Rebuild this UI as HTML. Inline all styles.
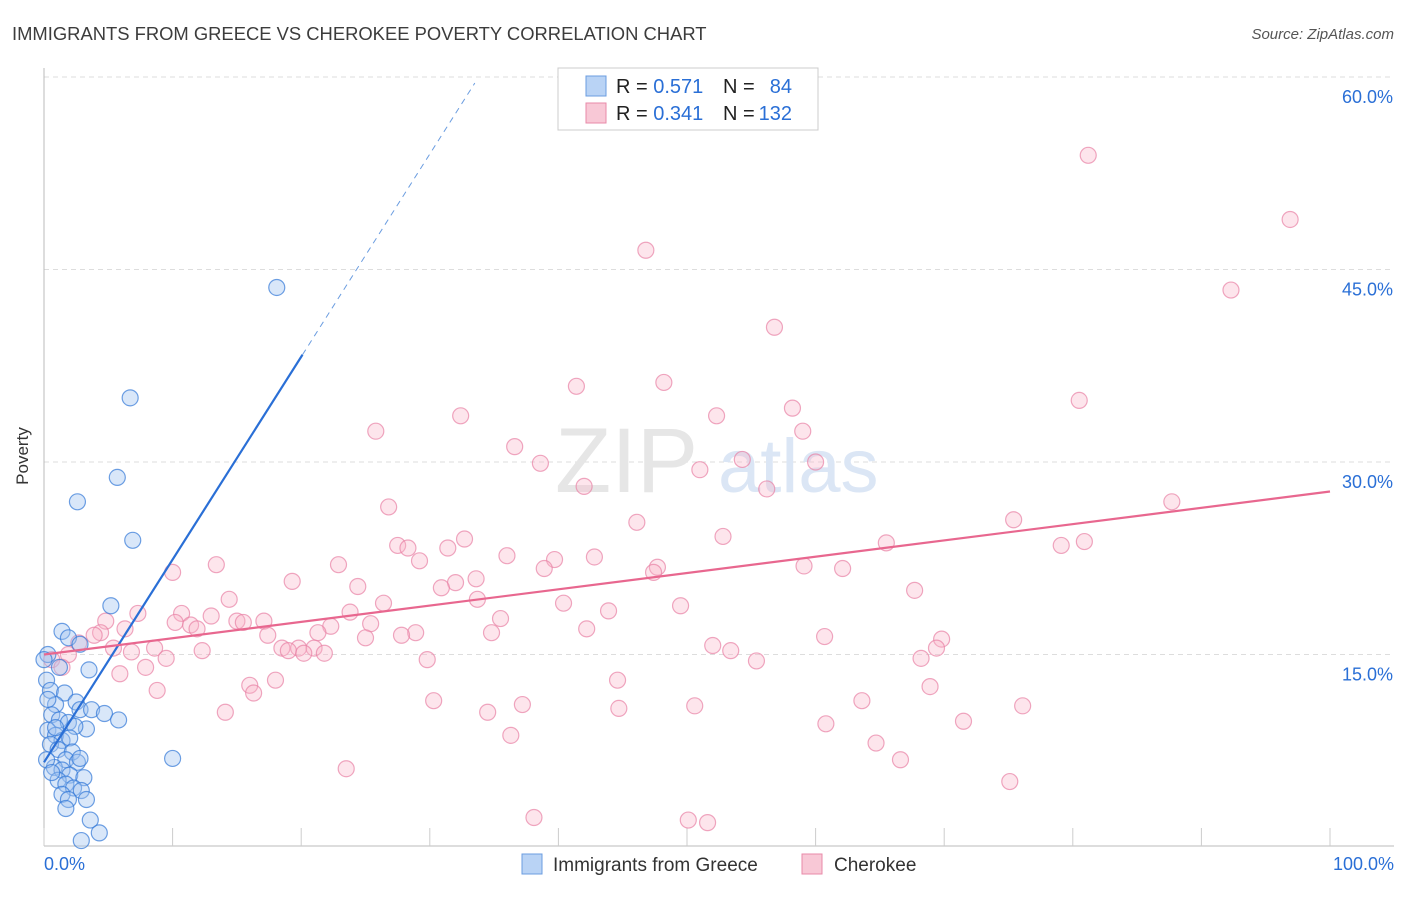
<!DOCTYPE html>
<html><head><meta charset="utf-8"><style>
body{margin:0;background:#fff;font-family:"Liberation Sans",sans-serif}
svg text{font-family:"Liberation Sans",sans-serif}
</style></head><body>
<svg id="c" width="1406" height="892">
<text x="12" y="40" font-size="18.4" fill="#3c3c3c">IMMIGRANTS FROM GREECE VS CHEROKEE POVERTY CORRELATION CHART</text>
<text x="1394" y="39" font-size="15" fill="#555" text-anchor="end" font-style="italic">Source: ZipAtlas.com</text>
<text x="28" y="456" font-size="17" fill="#333" text-anchor="middle" transform="rotate(-90 28 456)">Poverty</text>
<g id="grid"></g>
<text x="555" y="492" font-size="92" fill="#e6e6e6" font-family="Liberation Serif">ZIP</text>
<text x="718" y="492" font-size="76" fill="#dbe6f5">atlas</text>
<g id="pts"></g>
<g id="lines"></g>
<g>
<rect x="558" y="68" width="260" height="62" fill="#fff" stroke="#ccc"/>
<rect x="586" y="76" width="20" height="20" fill="#b9d3f5" stroke="#6b9de0"/>
<text x="616" y="93" font-size="20" fill="#222">R = <tspan fill="#2a6fd6">0.571</tspan></text>
<text x="723" y="93" font-size="20" fill="#222">N =</text>
<text x="792" y="93" font-size="20" fill="#2a6fd6" text-anchor="end">84</text>
<rect x="586" y="103" width="20" height="20" fill="#f8c8d6" stroke="#e88aa8"/>
<text x="616" y="120" font-size="20" fill="#222">R = <tspan fill="#2a6fd6">0.341</tspan></text>
<text x="723" y="120" font-size="20" fill="#222">N =</text>
<text x="792" y="120" font-size="20" fill="#2a6fd6" text-anchor="end">132</text>
</g>
<rect x="522" y="854" width="20" height="20" fill="#b9d3f5" stroke="#6b9de0"/>
<text x="553" y="871" font-size="19" fill="#333">Immigrants from Greece</text>
<rect x="802" y="854" width="20" height="20" fill="#f8c8d6" stroke="#e88aa8"/>
<text x="834" y="871" font-size="19" fill="#333">Cherokee</text>
</svg>
<script>
const yTicks=[15,30,45,60];
const yTickLabels=["15.0%","30.0%","45.0%","60.0%"];
const xTickLabels=["0.0%","100.0%"];
const greeceX=[18.1,6.7,5.7,2.6,6.9,5.2,1.4,1.9,2.8,0.3,1.2,3.5,0.2,0.5,1.6,2.5,0.9,2.8,3.7,4.7,5.8,0.6,1.2,1.9,3.3,2.4,0.3,0.9,1.4,2.0,0.5,1.1,2.2,1.7,2.6,0.8,1.4,10.0,2.8,2.0,3.1,1.1,1.7,2.3,2.9,1.4,1.9,3.3,1.7,3.6,4.3,2.9,0.2,0.6,0.3,0.9,0.0];
const greeceY=[43.6,35.0,28.8,26.9,23.9,18.8,16.8,16.3,15.8,15.0,14.0,13.8,13.0,12.2,12.0,11.3,11.1,10.7,10.7,10.4,9.9,10.3,9.9,9.7,9.2,9.4,9.1,8.7,8.3,8.5,8.0,7.6,7.4,6.8,6.6,6.2,6.0,6.9,6.9,5.6,5.4,5.2,4.9,4.6,4.4,4.1,3.7,3.7,3.0,2.1,1.1,0.5,6.8,5.8,11.5,9.3,14.6];
const cherX=[81.2,96.9,46.8,92.3,56.8,41.4,48.2,80.5,32.4,58.2,52.3,25.8,59.0,36.6,38.6,54.3,60.0,51.0,42.0,56.2,87.7,26.8,75.4,46.1,52.8,32.7,65.5,79.1,80.9,27.5,28.3,31.4,36.0,42.8,39.7,29.2,22.9,13.4,59.1,62.1,38.9,47.7,47.4,10.0,33.6,32.0,19.3,30.9,24.4,67.7,33.7,14.4,26.4,40.4,49.5,43.9,7.3,23.8,10.7,13.0,35.5,15.0,17.1,4.8,10.2,11.4,15.5,25.4,22.3,11.9,6.3,42.2,34.8,4.4,21.3,28.9,27.8,3.9,17.4,60.7,25.0,69.8,2.7,52.0,69.4,18.5,19.8,21.0,12.3,19.0,21.8,20.2,8.6,5.4,6.8,1.9,29.8,9.5,53.4,68.2,55.4,0.6,7.9,1.4,5.9,18.0,44.6,16.0,68.9,8.8,16.3,63.6,30.3,76.1,37.2,50.6,44.7,34.5,14.1,71.5,60.8,36.3,64.7,66.6,23.5,75.1,38.1,50.1,51.6];
const cherY=[53.9,48.9,46.5,43.4,40.5,35.9,36.2,34.8,33.6,34.2,33.6,32.4,32.4,31.2,29.9,30.2,30.0,29.4,28.1,27.9,26.9,26.5,25.5,25.3,24.2,24.0,23.7,23.5,23.8,23.5,23.3,23.3,22.7,22.6,22.4,22.3,22.0,22.0,21.9,21.7,21.7,21.8,21.4,21.4,20.9,20.6,20.7,20.2,20.3,20.0,19.3,19.3,19.0,19.0,18.8,18.4,18.2,18.3,18.2,18.0,17.8,17.6,17.6,17.6,17.5,17.3,17.5,17.4,17.2,17.0,17.0,17.0,16.7,16.7,16.7,16.7,16.5,16.5,16.5,16.4,16.3,16.2,15.9,15.7,15.5,15.5,15.5,15.5,15.3,15.3,15.1,15.1,15.5,15.5,15.2,15.0,14.6,14.7,15.3,14.7,14.5,14.6,14.0,14.0,13.5,13.0,13.0,12.6,12.5,12.2,12.0,11.4,11.4,11.0,11.1,11.0,10.8,10.5,10.5,9.8,9.6,8.7,8.1,6.8,6.1,5.1,2.3,2.1,1.9];
const greeceFit=[6.6,1.58];
const cherFit=[15.0,0.127];
const X=v=>44+v*12.86, Y=v=>847-v*12.833;
const NS="http://www.w3.org/2000/svg";
function mk(t,a,p){const e=document.createElementNS(NS,t);for(const k in a)e.setAttribute(k,a[k]);p.appendChild(e);return e;}
const grid=document.getElementById('grid');
yTicks.forEach((t,i)=>{
  const l=mk('line',{x1:44,x2:1394,y1:Y(t),y2:Y(t),stroke:'#ddd','stroke-dasharray':'5,4'},grid);
  
  
  const tx=mk('text',{x:1393,y:Y(t)+26,'font-size':18,fill:'#2a6fd6','text-anchor':'end'},grid);
  tx.textContent=yTickLabels[i];
  
  
});
const ax=mk('line',{x1:44,x2:44,y1:68,y2:846,stroke:'#bbb'},grid);


const bx=mk('line',{x1:44,x2:1394,y1:846,y2:846,stroke:'#bbb'},grid);


for(let i=0;i<=10;i++){const t=mk('line',{x1:X(i*10),x2:X(i*10),y1:828,y2:846,stroke:'#ccc'},grid);

}
[[0,'start',44],[100,'end',1394]].forEach((d,i)=>{const t=mk('text',{x:d[2],y:870,'font-size':18,fill:'#2a6fd6','text-anchor':d[1]},grid);t.textContent=xTickLabels[i];

});
const pts=document.getElementById('pts');
cherX.forEach((x,i)=>{const c=mk('circle',{cx:X(x),cy:Y(cherY[i]),r:8,fill:'rgba(248,180,200,0.35)',stroke:'rgba(232,130,165,0.7)','stroke-width':1.2},pts);

});
greeceX.forEach((x,i)=>{const c=mk('circle',{cx:X(x),cy:Y(greeceY[i]),r:8,fill:'rgba(160,195,240,0.4)',stroke:'rgba(50,120,215,0.7)','stroke-width':1.2},pts);

});
const ln=document.getElementById('lines');
const g=x=>greeceFit[0]+greeceFit[1]*x, ch=x=>cherFit[0]+cherFit[1]*x;
let l1=mk('line',{x1:X(0),y1:Y(g(0)),x2:X(20.1),y2:Y(g(20.1)),stroke:'#2a6fd6','stroke-width':2.2},ln);


let l2=mk('line',{x1:X(20.1),y1:Y(g(20.1)),x2:X(33.5),y2:Y(g(33.5)),stroke:'#6b9de0','stroke-width':1,'stroke-dasharray':'6,5'},ln);


let l3=mk('line',{x1:X(0),y1:Y(ch(0)),x2:X(100),y2:Y(ch(100)),stroke:'#e8678f','stroke-width':2.2},ln);


</script>
</body></html>
